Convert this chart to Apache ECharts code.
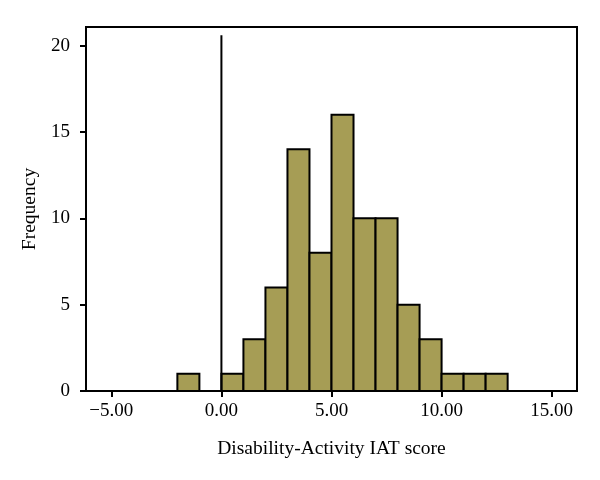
<!DOCTYPE html>
<html><head><meta charset="utf-8">
<script src="https://cdn.jsdelivr.net/npm/echarts@6/dist/echarts.min.js"></script>
<style>html,body{margin:0;padding:0;background:#fff}#c{width:600px;height:480px}</style>
</head><body><div id="c"></div>
<script>
var binStarts = [-2, 0, 1, 2, 3, 4, 5, 6, 7, 8, 9, 10, 11, 12];
var counts    = [ 1, 1, 3, 6,14, 8,16,10,10, 5, 3, 1, 1, 1];
var binWidth = 1;
var xTicks = [-5, 0, 5, 10, 15];
var yTicks = [0, 5, 10, 15, 20];
var refLineX = 0;
var refLineTop = 20.6;

var FONT = 'Liberation Serif';
var chart = echarts.init(document.getElementById('c'), null, {renderer:'canvas'});
var barData = binStarts.map(function(s,i){ return [s, s+binWidth, counts[i]]; });
chart.setOption({
  animation:false,
  grid:{left:86,right:23,top:27,bottom:89,show:true,borderColor:'#000',borderWidth:2,backgroundColor:'transparent'},
  xAxis:{type:'value',min:-6.15,max:16.15,
    name:'Disability-Activity IAT score',nameLocation:'middle',nameGap:48,
    nameTextStyle:{fontFamily:FONT,fontSize:19.5,color:'#000'},
    axisLine:{show:true,onZero:false,lineStyle:{color:'#000',width:2}},
    axisTick:{show:true,length:6,lineStyle:{color:'#000',width:2},customValues:xTicks},
    axisLabel:{fontFamily:FONT,fontSize:19,color:'#000',margin:11,customValues:xTicks,
      formatter:function(v){return (v<0?'\u2212':'')+Math.abs(v).toFixed(2);}},
    splitLine:{show:false}},
  yAxis:{type:'value',min:0,max:21.08,
    name:'Frequency',nameLocation:'middle',nameGap:45,
    nameTextStyle:{fontFamily:FONT,fontSize:19.5,color:'#000'},
    axisLine:{show:true,onZero:false,lineStyle:{color:'#000',width:2}},
    axisTick:{show:true,length:6,lineStyle:{color:'#000',width:2},customValues:yTicks},
    axisLabel:{fontFamily:FONT,fontSize:19,color:'#000',margin:16,customValues:yTicks},
    splitLine:{show:false}},
  series:[
    {type:'custom',data:barData,
      renderItem:function(params,api){
        var p0=api.coord([api.value(0),0]);
        var p1=api.coord([api.value(1),api.value(2)]);
        return {type:'rect',shape:{x:p0[0],y:p1[1],width:p1[0]-p0[0],height:p0[1]-p1[1]},
          style:{fill:'#a69d55',stroke:'#000',lineWidth:2}};
      },encode:{x:[0,1],y:2}},
    {type:'line',data:[[refLineX,0],[refLineX,refLineTop]],symbol:'none',
      lineStyle:{color:'#000',width:2},z:5}
  ]
});
</script></body></html>
